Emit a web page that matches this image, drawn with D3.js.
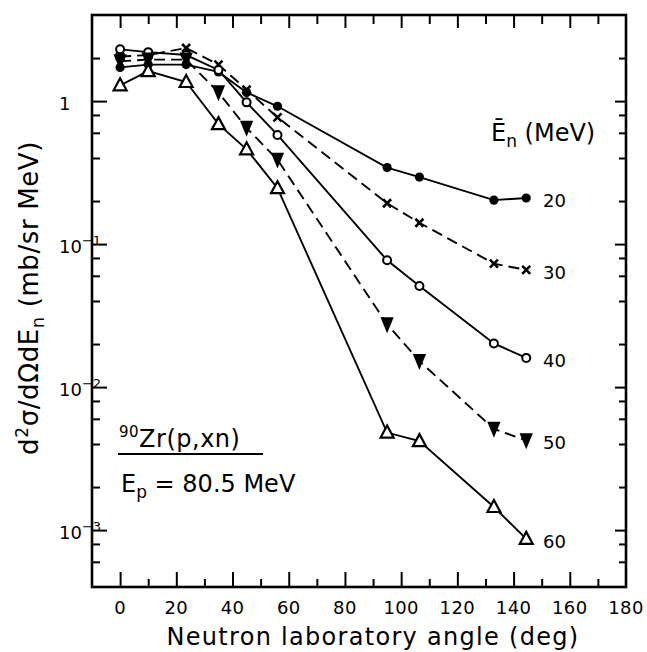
<!DOCTYPE html>
<html>
<head>
<meta charset="utf-8">
<script src="https://cdn.jsdelivr.net/npm/d3@7"></script>
<style>
  body { margin: 0; background: #fff; }
  svg { display: block; font-family: 'DejaVu Sans', sans-serif; }
  .tick line { stroke: #000; stroke-width: 2; }
  .domain { display: none; }
</style>
</head>
<body>
<div id="chart"></div>
<script>
// neutron lab angle (deg) and spectra per mean neutron energy
const angles = [0, 10, 23.5, 35, 45, 56, 95, 106.5, 133, 144.5];
const en20 = [1.72, 1.8, 1.8, 1.6, 1.15, 0.92, 0.343, 0.294, 0.203, 0.21];
const en30 = [2.05, 2.1, 2.35, 1.8, 1.2, 0.77, 0.193, 0.141, 0.073, 0.066];
const en40 = [2.3, 2.2, 2.1, 1.65, 0.98, 0.58, 0.077, 0.051, 0.0202, 0.016];
const en50 = [1.9, 1.95, 1.95, 1.15, 0.65, 0.389, 0.0275, 0.0152, 0.0051, 0.00424];
const en60 = [1.29, 1.62, 1.36, 0.69, 0.46, 0.246, 0.00481, 0.00419, 0.00145, 0.000868];
const energyLabels = ['20', '30', '40', '50', '60'];

const xMajor = [0, 20, 40, 60, 80, 100, 120, 140, 160, 180];
const xMinor = [10, 30, 50, 70, 90, 110, 130, 150, 170];
const yMajor = [1e-3, 1e-2, 1e-1, 1];
const yLabelExp = ['-3', '-2', '-1', ''];

const W = 647, H = 652;
const plotLeft = 92, plotRight = 626, plotTop = 15, plotBottom = 587;

const svg = d3.select('#chart').append('svg')
  .attr('width', W)
  .attr('height', H);

const x = d3.scaleLinear().domain([-10, 180]).range([plotLeft, plotRight]);
const y = d3.scaleLog().domain([4e-4, 4]).range([plotBottom, plotTop]);

// minor log ticks at 2,4,6,8 of each decade
let yMinor = [];
[1e-4, 1e-3, 1e-2, 1e-1, 1].forEach(d => {
  [2, 4, 6, 8].forEach(m => {
    const v = d * m;
    if (v > 4.05e-4 && v < 3.95) yMinor.push(v);
  });
});

// ticks, all pointing inward
svg.append('g').attr('transform', `translate(0,${plotBottom})`)
  .call(d3.axisBottom(x).tickValues(xMajor.slice(0, -1)).tickSize(-15).tickFormat(''));
svg.append('g').attr('transform', `translate(0,${plotBottom})`)
  .call(d3.axisBottom(x).tickValues(xMinor).tickSize(-8).tickFormat(''));
svg.append('g').attr('transform', `translate(0,${plotTop})`)
  .call(d3.axisTop(x).tickValues(xMajor.slice(0, -1)).tickSize(-13).tickFormat(''));
svg.append('g').attr('transform', `translate(0,${plotTop})`)
  .call(d3.axisTop(x).tickValues(xMinor).tickSize(-9).tickFormat(''));

svg.append('g').attr('transform', `translate(${plotLeft},0)`)
  .call(d3.axisLeft(y).tickValues(yMajor).tickSize(-15).tickFormat(''));
svg.append('g').attr('transform', `translate(${plotLeft},0)`)
  .call(d3.axisLeft(y).tickValues(yMinor).tickSize(-8).tickFormat(''));
svg.append('g').attr('transform', `translate(${plotRight},0)`)
  .call(d3.axisRight(y).tickValues(yMajor).tickSize(-11).tickFormat(''));
svg.append('g').attr('transform', `translate(${plotRight},0)`)
  .call(d3.axisRight(y).tickValues(yMinor).tickSize(-7).tickFormat(''));

// frame
svg.append('rect')
  .attr('x', plotLeft).attr('y', plotTop)
  .attr('width', plotRight - plotLeft).attr('height', plotBottom - plotTop)
  .attr('fill', 'none').attr('stroke', '#000').attr('stroke-width', 2.6);

// x tick labels
svg.append('g').selectAll('text').data(xMajor).join('text')
  .attr('x', d => x(d))
  .attr('y', plotBottom + 27)
  .attr('text-anchor', 'middle')
  .attr('font-size', 18)
  .attr('letter-spacing', 0.4)
  .text(d => d);

// y tick labels with exponents
const yl = svg.append('g').selectAll('text').data(yMajor).join('text')
  .attr('x', 59)
  .attr('y', d => y(d) + 9)
  .attr('font-size', 18);
yl.append('tspan').text((d, i) => yLabelExp[i] === '' ? '1' : '10');
yl.append('tspan')
  .attr('dy', -8)
  .attr('font-size', 13)
  .text((d, i) => yLabelExp[i] === '' ? '' : '\u2212' + yLabelExp[i].slice(1));

// axis titles
svg.append('text')
  .attr('x', 373)
  .attr('y', 645)
  .attr('text-anchor', 'middle')
  .attr('font-size', 24)
  .attr('letter-spacing', 1.3)
  .text('Neutron laboratory angle (deg)');

const yt = svg.append('text')
  .attr('transform', `translate(38,298) rotate(-90)`)
  .attr('text-anchor', 'middle')
  .attr('font-size', 26)
  .attr('letter-spacing', 0.6);
yt.append('tspan').text('d');
yt.append('tspan').attr('dy', -10).attr('font-size', 17).text('2');
yt.append('tspan').attr('dy', 10).text('\u03c3/d\u03a9dE');
yt.append('tspan').attr('dy', 6).attr('font-size', 18).text('n');
yt.append('tspan').attr('dy', -6).text(' (mb/sr MeV)');

// series
const series = [
  { values: en20, dash: null, marker: 'dot' },
  { values: en30, dash: '11,6', marker: 'cross' },
  { values: en40, dash: null, marker: 'ring' },
  { values: en50, dash: '11,6', marker: 'down' },
  { values: en60, dash: null, marker: 'up' }
];

const line = d3.line()
  .x(d => x(d[0]))
  .y(d => y(d[1]));

const markerPath = {
  cross: 'M-4,-4L4,4M-4,4L4,-4',
  down: 'M-5,-6L5,-6L0,6Z',
  up: 'M0,-7L6.5,5L-6.5,5Z'
};

series.forEach((s, k) => {
  const pts = angles.map((a, i) => [a, s.values[i]]);
  svg.append('path')
    .attr('d', line(pts))
    .attr('fill', 'none')
    .attr('stroke', '#000')
    .attr('stroke-width', 1.9)
    .attr('stroke-dasharray', s.dash);
});

series.forEach((s, k) => {
  const pts = angles.map((a, i) => [a, s.values[i]]);
  const g = svg.append('g');
  if (s.marker === 'dot' || s.marker === 'ring') {
    g.selectAll('circle').data(pts).join('circle')
      .attr('cx', d => x(d[0]))
      .attr('cy', d => y(d[1]))
      .attr('r', s.marker === 'dot' ? 4.6 : 4)
      .attr('fill', s.marker === 'dot' ? '#000' : '#fff')
      .attr('stroke', '#000')
      .attr('stroke-width', s.marker === 'dot' ? 0 : 2);
  } else {
    g.selectAll('path').data(pts).join('path')
      .attr('transform', d => `translate(${x(d[0])},${y(d[1])})`)
      .attr('d', markerPath[s.marker])
      .attr('fill', s.marker === 'down' ? '#000' : (s.marker === 'up' ? '#fff' : 'none'))
      .attr('stroke', '#000')
      .attr('stroke-width', s.marker === 'cross' ? 2.6 : 2.2)
      .attr('stroke-linejoin', 'miter');
  }
  // energy label at the end of each curve
  const last = s.values[s.values.length - 1];
  svg.append('text')
    .attr('x', 543)
    .attr('y', y(last) + 9)
    .attr('font-size', 18)
    .text(energyLabels[k]);
});

// legend title
const lt = svg.append('text')
  .attr('x', 491)
  .attr('y', 141)
  .attr('font-size', 24);
lt.append('tspan').text('\u0112');
lt.append('tspan').attr('dy', 6).attr('font-size', 17).text('n');
lt.append('tspan').attr('dy', -6).text(' (MeV)');

// reaction annotation
const r1 = svg.append('text').attr('x', 119).attr('y', 447).attr('font-size', 24).attr('letter-spacing', 0.5);
r1.append('tspan').attr('dy', -10).attr('font-size', 15).text('90');
r1.append('tspan').attr('dy', 10).text('Zr(p,xn)');
svg.append('line')
  .attr('x1', 118).attr('x2', 263)
  .attr('y1', 454).attr('y2', 454)
  .attr('stroke', '#000').attr('stroke-width', 2.2);
const r2 = svg.append('text').attr('x', 121).attr('y', 492).attr('font-size', 24);
r2.append('tspan').text('E');
r2.append('tspan').attr('dy', 6).attr('font-size', 17).text('p');
r2.append('tspan').attr('dy', -6).text(' = 80.5 MeV');
</script>
</body>
</html>
